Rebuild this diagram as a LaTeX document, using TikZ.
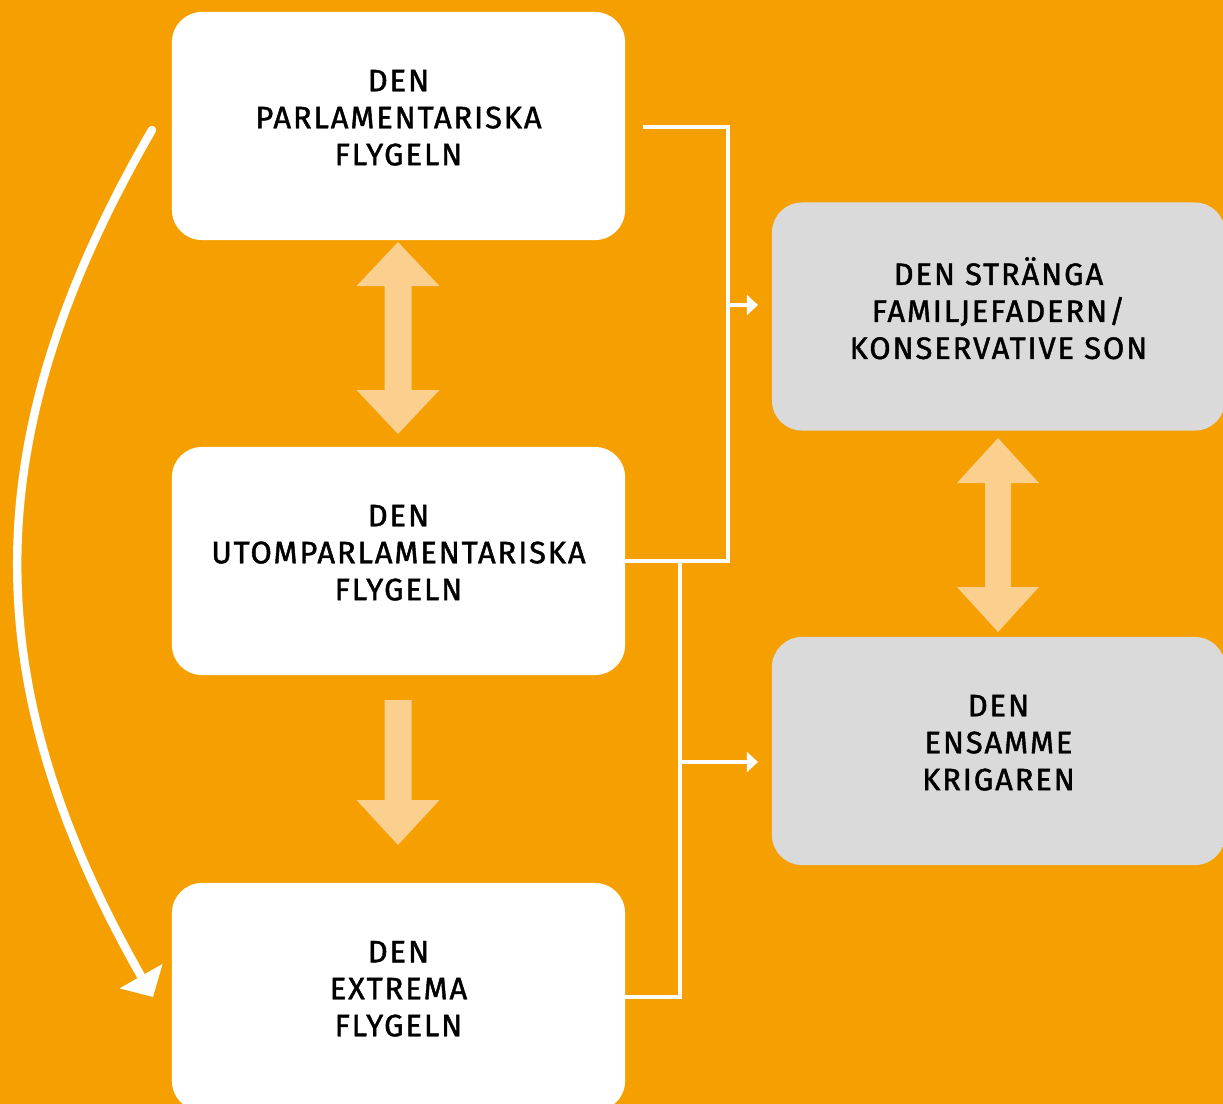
\documentclass[tikz,border=0pt]{standalone}
\usepackage{fontspec}
\setmainfont{Fira Sans}[FakeBold=1.3]
\newfontfamily\boxfont{Fira Sans}[LetterSpace=6,FakeBold=1.4]
\usetikzlibrary{arrows.meta,calc}
\definecolor{bgorange}{HTML}{F59F00}
\definecolor{lightarrow}{HTML}{FBCF8E}
\definecolor{boxgray}{HTML}{DADADA}
\begin{document}
\begin{tikzpicture}[x=0.025cm,y=-0.025cm,
  box/.style={rectangle, rounded corners=0.75cm, minimum width=11.325cm, minimum height=5.7cm,
    align=center, inner sep=0pt, font=\boxfont\fontsize{22}{26.3}\selectfont, text=black,
    execute at end node={\rule[-0.42cm]{0pt}{0pt}}},
  wbox/.style={box, fill=white},
  gbox/.style={box, fill=boxgray},
  conn/.style={draw=white, line width=2.2pt},
  connarrow/.style={conn, -{Triangle[length=0.28cm,width=0.5cm]}},
  bigarrow/.style={fill=lightarrow},
  curvearrow/.style={draw=white, line width=6pt, line cap=round, -{Triangle[length=0.6cm,width=1.2cm]}}
]
\fill[bgorange] (0,0) rectangle (1223,1104);
\useasboundingbox (0,0) rectangle (1223,1104);
\begin{scope}
\clip (0,0) rectangle (1223,1104);
\node[wbox] (b1) at (398.5,126) {DEN\\PARLAMENTARISKA\\FLYGELN};
\node[wbox] (b2) at (398.5,561) {DEN\\UTOMPARLAMENTARISKA\\FLYGELN};
\node[wbox] (b3) at (398.5,997) {DEN\\EXTREMA\\FLYGELN};
\node[gbox] (b4) at (998.5,316.5) {DEN STRÄNGA\\FAMILJEFADERN/\\KONSERVATIVE SON};
\node[gbox] (b5) at (998.5,751) {DEN\\ENSAMME\\KRIGAREN};

% big light arrows
\fill[bigarrow] (398,242) -- (439.5,286) -- (411.5,286) -- (411.5,390) -- (439.5,390) -- (398,434)
  -- (356.5,390) -- (384.5,390) -- (384.5,286) -- (356.5,286) -- cycle;
\fill[bigarrow] (384.5,700) -- (411.5,700) -- (411.5,800) -- (439.5,800) -- (398,845)
  -- (356.5,800) -- (384.5,800) -- cycle;
\fill[bigarrow] (998,438) -- (1039,483) -- (1011,483) -- (1011,587) -- (1039,587) -- (998,632)
  -- (957,587) -- (985,587) -- (985,483) -- (957,483) -- cycle;

% connectors
\coordinate (j1) at (728,561);
\coordinate (j2) at (680,561);
\coordinate (a1) at (758,305);
\coordinate (a2) at (758,762);
\draw[conn] ($(b1.east)+(18,1)$) -| (j1) -- (b2.east);
\draw[connarrow] (j1 |- a1) -- (a1);
\draw[conn] (b2.east) -- (j2) |- (b3.east);
\draw[connarrow] (j2 |- a2) -- (a2);

% curved arrow
\coordinate (cs) at (152,130);
\coordinate (ce) at (153,997);
\draw[curvearrow] (cs) .. controls (-26,437) and (-26,683) .. (ce);
\end{scope}
\end{tikzpicture}
\end{document}
